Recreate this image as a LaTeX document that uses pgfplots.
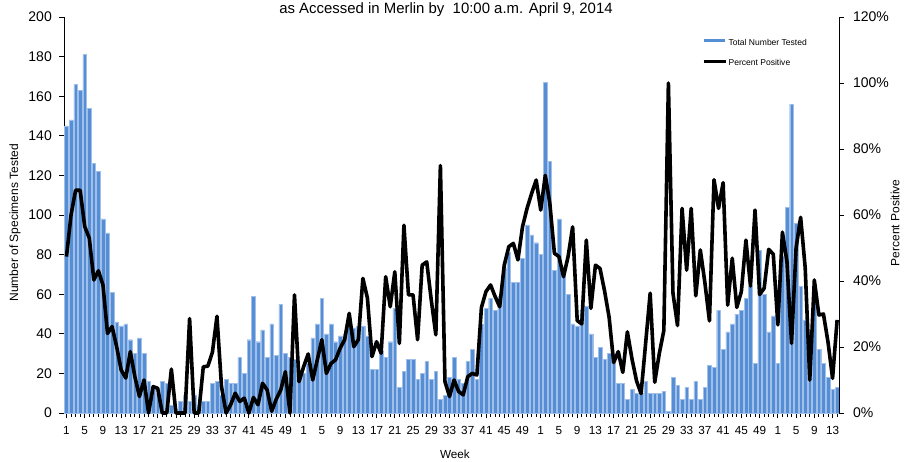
\documentclass[border=0pt]{standalone}
\usepackage{fontspec}
\setmainfont{Liberation Sans}
\usepackage{pgfplots}
\pgfplotsset{compat=1.18}
\usepackage{pgfplotstable}

\definecolor{barblue}{RGB}{85,142,213}
\definecolor{baredge}{RGB}{160,192,234}

\pgfplotstableread{
x y
0 145
1 148
2 166
3 163
4 181
5 154
6 126
7 122
8 98
9 91
10 61
11 46
12 44
13 45
14 37
15 30
16 38
17 30
18 16
19 12
20 10
21 16
22 15
23 4
24 2
25 6
26 9
27 6
28 9
29 4
30 6
31 6
32 15
33 16
34 9
35 17
36 15
37 15
38 28
39 20
40 37
41 59
42 36
43 42
44 28
45 45
46 29
47 55
48 30
49 28
50 27
51 20
52 20
53 25
54 38
55 45
56 58
57 40
58 45
59 36
60 39
61 40
62 44
63 43
64 44
65 44
66 39
67 22
68 22
69 31
70 28
71 36
72 53
73 13
74 21
75 27
76 27
77 17
78 20
79 26
80 17
81 21
82 7
83 9
84 18
85 28
86 17
87 15
88 26
89 32
90 17
91 45
92 53
93 58
94 52
95 59
96 73
97 81
98 66
99 66
100 78
101 95
102 90
103 86
104 80
105 167
106 127
107 72
108 98
109 69
110 60
111 45
112 44
113 52
114 54
115 40
116 28
117 33
118 27
119 30
120 25
121 15
122 15
123 7
124 12
125 10
126 10
127 16
128 10
129 10
130 10
131 11
132 1
133 18
134 14
135 7
136 13
137 7
138 16
139 7
140 13
141 24
142 23
143 52
144 32
145 41
146 45
147 50
148 52
149 58
150 64
151 25
152 82
153 60
154 41
155 49
156 25
157 79
158 104
159 156
160 96
161 64
162 47
163 41
164 58
165 32
166 25
167 18
168 12
169 13
}\bardata

\pgfplotstableread{
x y
0 47.4
1 60
2 67.5
3 67.5
4 56.5
5 53
6 40.3
7 43.1
8 38.8
9 24.1
10 26.2
11 20.1
12 13
13 10.6
14 18.6
15 11
16 5
17 10
18 0
19 8
20 7.5
21 0
22 0
23 13.3
24 0
25 0
26 0
27 28.6
28 0
29 0
30 14
31 14.2
32 18.4
33 29.3
34 8
35 0
36 2.5
37 6
38 3.5
39 4.5
40 0
41 4.7
42 2.5
43 9
44 7
45 0.5
46 4.2
47 7
48 12.5
49 0
50 35.8
51 9.5
52 14
53 17.9
54 10
55 16.1
56 22.2
57 12
58 15
59 16.1
60 19.6
61 22.2
62 30.2
63 20.1
64 22.2
65 40.8
66 34.8
67 17.1
68 21.6
69 18.1
70 41.3
71 32.2
72 42.8
73 21.1
74 56.9
75 35.8
76 35.8
77 22.2
78 44.8
79 45.8
80 34.2
81 23.7
82 75
83 9.5
84 5
85 10
86 6.5
87 5.5
88 11
89 12
90 11.5
91 32
92 36.8
93 38.8
94 35.3
95 32.2
96 44.8
97 50.4
98 51.4
99 46.4
100 56.4
101 62
102 66.5
103 70.6
104 61.5
105 72
106 63.5
107 48.4
108 47.4
109 41.3
110 47.4
111 56.4
112 28
113 27
114 52.4
115 31.7
116 44.8
117 43.8
118 37
119 29
120 15.3
121 18.6
122 12.3
123 24.6
124 16.5
125 9.8
126 5.9
127 21
128 36.3
129 9.3
130 18
131 25
132 100
133 36.3
134 26.5
135 62
136 43.3
137 62
138 35.5
139 49.4
140 39.5
141 27.9
142 70.7
143 62
144 69.8
145 32.7
146 46.9
147 32
148 36.8
149 52.4
150 38.5
151 61.5
152 35.9
153 37.8
154 49.6
155 48.1
156 26.7
157 54.8
158 45.8
159 21.1
160 50
161 59.3
162 44
163 10
164 40.3
165 29.7
166 30
167 21.5
168 10.5
169 28.2
}\linedata

\begin{document}
\begin{tikzpicture}
\path[use as bounding box] (-48.15pt,-36pt) rectangle (632.1pt,309.75pt);
\begin{axis}[
  at={(0,0)}, anchor=south west,
  scale only axis, width=581.4pt, height=297pt,
  xmin=-0.5, xmax=169.5, ymin=0, ymax=200,
  axis y line*=left, axis x line*=bottom,
  axis line style={black, line width=0.6pt},
  ytick={0,20,...,200},
  xtick={0,4,...,168},
  minor xtick={0,1,...,169},
  xticklabels={1,5,9,13,17,21,25,29,33,37,41,45,49,1,5,9,13,17,21,25,29,33,37,41,45,49,1,5,9,13,17,21,25,29,33,37,41,45,49,1,5,9,13},
  tick align=outside,
  major tick length=3.75pt, minor tick length=3pt,
  tick style={black, line width=0.6pt},
  /pgf/number format/assume math mode=true,
  yticklabel style={font=\fontsize{10.5}{12}\selectfont, xshift=-2pt},
  xticklabel style={font=\fontsize{8.8}{10}\selectfont, yshift=-3pt},
  ylabel={Number of Specimens Tested},
  ylabel style={font=\fontsize{9}{10}\selectfont, at={(axis description cs:-0.0635,0.48)}, anchor=center},
  xlabel={Week},
  xlabel style={font=\fontsize{8.8}{10}\selectfont, at={(axis description cs:0.504,-0.1035)}, anchor=center},
  legend style={draw=none, fill=none, font=\fontsize{6.4}{7.5}\selectfont,
    at={(axis description cs:0.8225,0.9073)}, anchor=west, inner sep=0pt, row sep=7pt,
    nodes={inner sep=1pt}},
  legend cell align=left,
]
\addplot[ybar, bar width=0.8, bar shift=0pt, fill=barblue, draw=baredge, line width=0.3pt, forget plot] table[x=x,y=y] {\bardata};
\addlegendimage{legend image code/.code={\draw[line width=2.2pt, barblue] (0pt,2pt) -- (16.2pt,2pt);}}
\addlegendentry{Total Number Tested}
\addlegendimage{legend image code/.code={\draw[line width=2.4pt, black] (0pt,2pt) -- (16.5pt,2pt);}}
\addlegendentry{Percent Positive}
\end{axis}
\begin{axis}[
  at={(0,0)}, anchor=south west,
  scale only axis, width=581.4pt, height=297pt,
  xmin=-0.5, xmax=169.5, ymin=0, ymax=120,
  axis y line*=right, axis x line=none,
  axis line style={black, line width=0.6pt},
  ytick={0,20,...,120},
  yticklabel={\pgfmathprintnumber{\tick}\%},
  tick align=outside,
  major tick length=3.75pt,
  tick style={black, line width=0.6pt},
  /pgf/number format/assume math mode=true,
  yticklabel style={font=\fontsize{10.5}{12}\selectfont, xshift=3pt},
  ylabel={Percent Positive},
  ylabel style={font=\fontsize{9}{10}\selectfont, at={(axis description cs:1.0717,0.48)}, anchor=center},
  clip=false,
]
\addplot[black, line width=2.7pt, line join=round, mark=none] table[x=x,y=y] {\linedata};
\node[anchor=base, font=\fontsize{11.2}{13}\selectfont] at (axis description cs:0.4925,1.0076) {as Accessed in Merlin by\ \ 10:00 a.m. April 9, 2014};
\end{axis}
\end{tikzpicture}
\end{document}
